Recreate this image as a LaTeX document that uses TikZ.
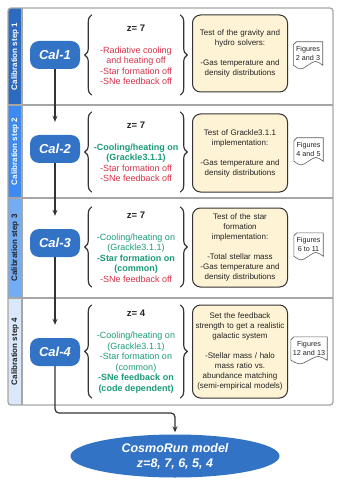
\documentclass[tikz,border=0pt]{standalone}
\usepackage{fontspec}
\setmainfont{Liberation Sans}
\usetikzlibrary{arrows.meta,positioning,calc,shapes.geometric,decorations.pathreplacing}
\definecolor{Ink}{HTML}{222222}
\definecolor{Edge}{HTML}{333333}
\definecolor{Frame}{HTML}{A6A6A6}
\definecolor{CalBlue}{HTML}{3273C6}
\definecolor{StepA}{HTML}{2C6BC0}
\definecolor{StepB}{HTML}{3D8BF2}
\definecolor{StepC}{HTML}{74ACF4}
\definecolor{StepD}{HTML}{DAE8FC}
\definecolor{Cream}{HTML}{FFF3D6}
\definecolor{Off}{HTML}{D63249}
\definecolor{On}{HTML}{1A9A76}
\tikzset{
  >={Stealth[length=6pt,width=5pt]},
  frame/.style={draw=Frame,line width=1.3pt,rounded corners=3pt},
  divider/.style={draw=Frame,line width=1.3pt},
  steplab/.style={rotate=90,font=\fontsize{8}{9}\selectfont\bfseries,inner sep=0pt},
  cal/.style={rounded corners=9pt,fill=CalBlue,draw=none,minimum width=50pt,minimum height=28pt,
    text=white,font=\fontsize{13}{15}\selectfont\bfseries\itshape,inner sep=0pt},
  setlist/.style={minimum width=88pt,align=center,inner sep=0pt,font=\fontsize{9}{10.5}\selectfont,text=Ink},
  zline/.style={},
  brc/.style={decorate,decoration={brace,amplitude=7pt},draw=Edge,line width=1.2pt},
  testbox/.style={rounded corners=8pt,fill=Cream,draw=Edge,line width=1pt,minimum width=95pt,
    text width=91pt,align=center,font=\fontsize{8}{10}\selectfont,text=Ink,inner sep=0pt},
  figdoc/.style={minimum width=29pt,minimum height=23pt,align=center,inner sep=0pt,
    font=\fontsize{7.2}{8.3}\selectfont,text=Ink},
  docline/.style={draw=Edge!80,line width=.6pt},
  flow/.style={->,line width=1.2pt,draw=Edge,shorten >=13pt},
  endflow/.style={flow,shorten >=2pt,rounded corners=4pt},
  model/.style={ellipse,fill=CalBlue,draw=none,minimum width=209pt,minimum height=43pt,inner sep=0pt,
    text=white,align=center,font=\fontsize{12.5}{15}\selectfont\bfseries\itshape}
}
\newcommand{\zval}[1]{{\fontsize{9.5}{10.5}\selectfont\bfseries z= #1}\\[11.5pt]}
\begin{document}
\begin{tikzpicture}[x=1pt,y=-1pt]
  \useasboundingbox (0,0) rectangle (340,486);

  \begin{scope}
    \clip[rounded corners=3pt] (8,8) rectangle (333,405);
    \fill[StepA] (8,8) rectangle (22,105);
    \fill[StepB] (8,105) rectangle (22,198);
    \fill[StepC] (8,198) rectangle (22,298);
    \fill[StepD] (8,298) rectangle (22,405);
  \end{scope}
  \draw[divider] (8,105) -- (333,105);
  \draw[divider] (8,198) -- (333,198);
  \draw[divider] (8,298) -- (333,298);
  \draw[divider] (22,8) -- (22,405);
  \draw[frame] (8,8) rectangle (333,405);

  \node[steplab,text=white] (lab1) at (15,56.5) {Calibration step 1};
  \node[steplab,text=white] (lab2) at (15,151.5) {Calibration step 2};
  \node[steplab,text=Ink] (lab3) at (15,248) {Calibration step 3};
  \node[steplab,text=Ink] (lab4) at (15,351.5) {Calibration step 4};

  \node[cal] (cal1) at (55,55) {Cal-1};
  \node[cal] (cal2) at (55,149) {Cal-2};
  \node[cal] (cal3) at (55,243) {Cal-3};
  \node[cal] (cal4) at (55,352) {Cal-4};

  \node[setlist,minimum height=80pt] (set1) at (136,55) {\zval{7}
    \textcolor{Off}{-Radiative cooling}\\\textcolor{Off}{and heating off}\\
    \textcolor{Off}{-Star formation off}\\\textcolor{Off}{-SNe feedback off}};
  \node[setlist,minimum height=80pt] (set2) at (136,152) {\zval{7}
    \textcolor{On}{\bfseries -Cooling/heating on}\\\textcolor{On}{\bfseries (Grackle3.1.1)}\\
    \textcolor{Off}{-Star formation off}\\\textcolor{Off}{-SNe feedback off}};
  \node[setlist,minimum height=80pt] (set3) at (136,247) {\zval{7}
    \textcolor{On}{-Cooling/heating on}\\\textcolor{On}{(Grackle3.1.1)}\\
    \textcolor{On}{\bfseries -Star formation on}\\\textcolor{On}{\bfseries (common)}\\
    \textcolor{Off}{-SNe feedback off}};
  \node[setlist,minimum height=93pt] (set4) at (136,351.5) {\zval{4}
    \textcolor{On}{-Cooling/heating on}\\\textcolor{On}{(Grackle3.1.1)}\\
    \textcolor{On}{-Star formation on}\\\textcolor{On}{(common)}\\
    \textcolor{On}{\bfseries -SNe feedback on}\\\textcolor{On}{\bfseries (code dependent)}};

  \draw[brc] (set1.south west) -- (set1.north west);
  \draw[brc] (set1.north east) -- (set1.south east);
  \draw[brc] (set2.south west) -- (set2.north west);
  \draw[brc] (set2.north east) -- (set2.south east);
  \draw[brc] (set3.south west) -- (set3.north west);
  \draw[brc] (set3.north east) -- (set3.south east);
  \draw[brc] (set4.south west) -- (set4.north west);
  \draw[brc] (set4.north east) -- (set4.south east);

  \node[testbox,minimum height=77pt] (test1) at (240,53.5)
    {Test of the gravity and\\hydro solvers:\\[10pt]-Gas temperature and\\density distributions};
  \node[testbox,minimum height=78pt] (test2) at (240,153)
    {Test of Grackle3.1.1\\implementation:\\[10pt]-Gas temperature and\\density distributions};
  \node[testbox,minimum height=79pt] (test3) at (240,247.5)
    {Test of the star\\formation\\implementation:\\[10pt]-Total stellar mass\\-Gas temperature and\\density distributions};
  \node[testbox,minimum height=93pt] (test4) at (240,351.5)
    {Set the feedback\\strength to get a realistic\\galactic system\\[10pt]-Stellar mass / halo\\mass ratio vs.\\abundance matching\\(semi-empirical models)};

  \node[figdoc] (fig1) at (308,53.5) {Figures\\2 and 3};
  \node[figdoc] (fig2) at (308.5,149.5) {Figures\\4 and 5};
  \node[figdoc] (fig3) at (308.5,244.5) {Figures\\6 to 11};
  \node[figdoc,minimum width=36pt] (fig4) at (309,348.5) {Figures\\12 and 13};
  \foreach \d in {fig1,fig2,fig3,fig4}
    \draw[docline] ([xshift=3pt]\d.north west) -- (\d.north east) -- (\d.south east)
      .. controls ($(\d.south east)!.25!(\d.south west)+(0,-5)$) .. ($(\d.south east)!.5!(\d.south west)$)
      .. controls ($(\d.south east)!.75!(\d.south west)+(0,5)$) .. (\d.south west)
      -- ([yshift=-3pt]\d.north west) -- cycle;

  \node[model] (cosmo) at (175,456) {CosmoRun model\\z=8, 7, 6, 5, 4};
  \coordinate (bend) at (175,413);

  \draw[flow] (cal1) -- (cal2);
  \draw[flow] (cal2) -- (cal3);
  \draw[flow] (cal3) -- (cal4);
  \draw[endflow] (cal4) |- (bend) -- (cosmo);
\end{tikzpicture}
\end{document}
